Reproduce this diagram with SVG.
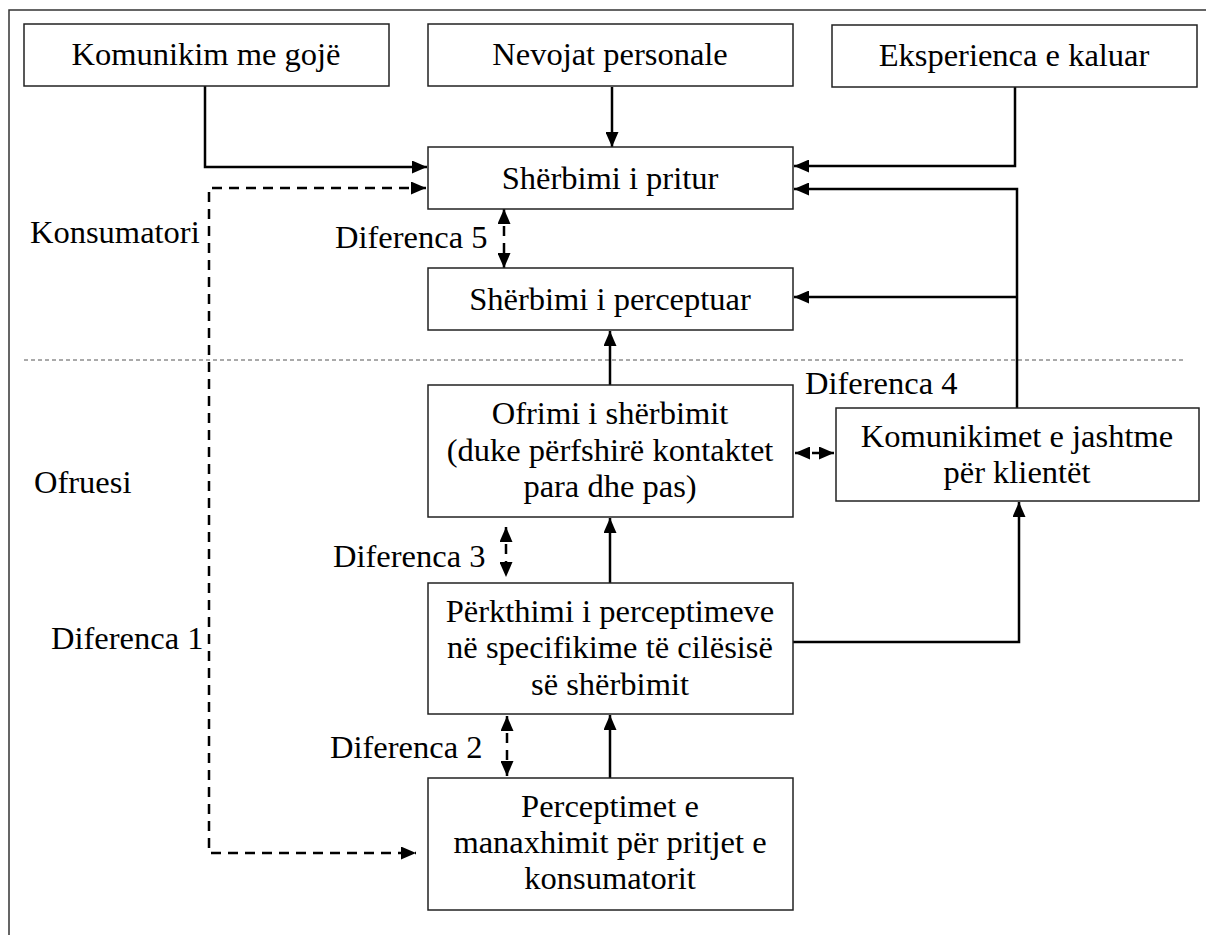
<svg xmlns="http://www.w3.org/2000/svg" width="1206" height="935" viewBox="0 0 1206 935">
<style>
.box{fill:#fff;stroke:#222;stroke-width:1.5}
.t{font-family:"Liberation Serif","Times New Roman",serif;font-size:32.5px;fill:#000}
.c{text-anchor:middle}
.ln{fill:none;stroke:#000;stroke-width:2.5}
.ds{fill:none;stroke:#000;stroke-width:2.5;stroke-dasharray:10 7}
.sep{fill:none;stroke:#555;stroke-width:1;stroke-dasharray:4 3}
</style>
<defs>
<marker id="ah" viewBox="0 0 15 13" refX="15" refY="6.5" markerWidth="15" markerHeight="13" markerUnits="userSpaceOnUse" orient="auto-start-reverse">
<path d="M0,0 L15,6.5 L0,13 z" fill="#000"/>
</marker>
</defs>
<rect width="1206" height="935" fill="#fff"/>
<path d="M9,935 V10 H1206" fill="none" stroke="#333" stroke-width="1.5"/>
<line class="sep" x1="24" y1="360" x2="1186" y2="360"/>

<text class="t" x="30" y="243">Konsumatori</text>
<text class="t" x="34" y="493">Ofruesi</text>
<text class="t" x="51" y="649">Diferenca 1</text>
<text class="t" x="335" y="248">Diferenca 5</text>
<text class="t" x="805" y="394">Diferenca 4</text>
<text class="t" x="333" y="567">Diferenca 3</text>
<text class="t" x="330" y="758">Diferenca 2</text>

<g id="connectors">
<path class="ln" d="M205,86 V167 H427" marker-end="url(#ah)"/>
<path class="ln" d="M612,87 V147" marker-end="url(#ah)"/>
<path class="ln" d="M1015,87 V166 H794" marker-end="url(#ah)"/>
<path class="ln" d="M1017,408 V189 H794" marker-end="url(#ah)"/>
<path class="ln" d="M1017,297 H794" marker-end="url(#ah)"/>
<path class="ln" d="M610,385 V331" marker-end="url(#ah)"/>
<path class="ln" d="M610,583 V518" marker-end="url(#ah)"/>
<path class="ln" d="M610,778 V715" marker-end="url(#ah)"/>
<path class="ln" d="M793,642 H1019 V502" marker-end="url(#ah)"/>
<path class="ds" d="M426,188 H209 V853 H416" marker-start="url(#ah)" marker-end="url(#ah)"/>
<path class="ds" d="M504,209 V268" marker-start="url(#ah)" marker-end="url(#ah)"/>
<path class="ds" d="M506,527 V577" marker-start="url(#ah)" marker-end="url(#ah)"/>
<path class="ds" d="M507,716 V776" marker-start="url(#ah)" marker-end="url(#ah)"/>
<path class="ds" d="M795,453 H834" marker-start="url(#ah)" marker-end="url(#ah)"/>
</g>

<g id="komunikim">
<rect class="box" x="24" y="24" width="365" height="62"/>
<text class="t c" x="206" y="65">Komunikim me gojë</text>
</g>
<g id="nevojat">
<rect class="box" x="428" y="24" width="365" height="62"/>
<text class="t c" x="610" y="65">Nevojat personale</text>
</g>
<g id="eksperienca">
<rect class="box" x="832" y="25" width="365" height="62"/>
<text class="t c" x="1014" y="66">Eksperienca e kaluar</text>
</g>
<g id="pritur">
<rect class="box" x="428" y="147" width="365" height="62"/>
<text class="t c" x="610" y="189">Shërbimi i pritur</text>
</g>
<g id="perceptuar">
<rect class="box" x="428" y="268" width="365" height="62"/>
<text class="t c" x="610" y="310">Shërbimi i perceptuar</text>
</g>
<g id="ofrimi">
<rect class="box" x="428" y="385" width="365" height="132"/>
<text class="t c" x="610" y="424">Ofrimi i shërbimit</text>
<text class="t c" x="610" y="461">(duke përfshirë kontaktet</text>
<text class="t c" x="610" y="497">para dhe pas)</text>
</g>
<g id="komunikimet">
<rect class="box" x="836" y="408" width="363" height="93"/>
<text class="t c" x="1017" y="447">Komunikimet e jashtme</text>
<text class="t c" x="1017" y="483">për klientët</text>
</g>
<g id="perkthimi">
<rect class="box" x="428" y="583" width="365" height="131"/>
<text class="t c" x="610" y="622">Përkthimi i perceptimeve</text>
<text class="t c" x="610" y="658">në specifikime të cilësisë</text>
<text class="t c" x="610" y="695">së shërbimit</text>
</g>
<g id="perceptimet">
<rect class="box" x="428" y="778" width="365" height="132"/>
<text class="t c" x="610" y="817">Perceptimet e</text>
<text class="t c" x="610" y="853">manaxhimit për pritjet e</text>
<text class="t c" x="610" y="889">konsumatorit</text>
</g>
</svg>
